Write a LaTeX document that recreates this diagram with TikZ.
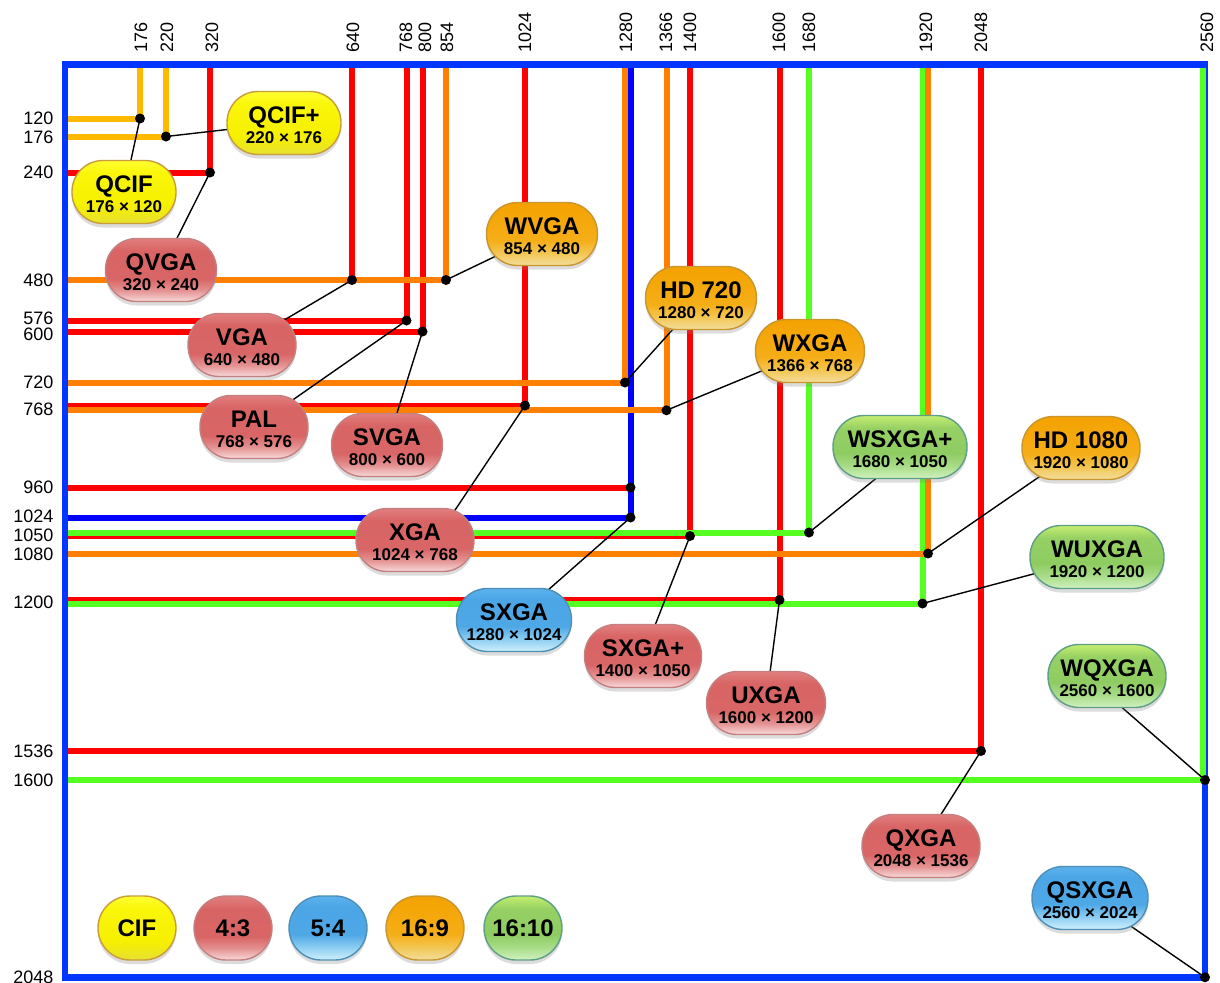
\documentclass[tikz,border=0pt]{standalone}
\usepackage{fontspec}
\setmainfont{Liberation Sans}
\usetikzlibrary{shadows,calc}
\pgfdeclarelayer{lines}
\pgfdeclarelayer{conn}
\pgfsetlayers{lines,conn,main}
\definecolor{cifl}{HTML}{FFBA00}
\definecolor{redl}{HTML}{FF0000}
\definecolor{orgl}{HTML}{FF8000}
\definecolor{grnl}{HTML}{55FF22}
\definecolor{bluel}{HTML}{0000FF}
\definecolor{framec}{HTML}{0036FF}
\pgfdeclareverticalshading{shcif}{100bp}{color(0bp)=(rgb,255:red,230;green,224;blue,50); color(25bp)=(rgb,255:red,230;green,224;blue,50); color(40bp)=(rgb,255:red,246;green,240;blue,0); color(65bp)=(rgb,255:red,250;green,246;blue,10); color(75bp)=(rgb,255:red,255;green,255;blue,48); color(100bp)=(rgb,255:red,255;green,255;blue,48)}
\pgfdeclareverticalshading{shred}{100bp}{color(0bp)=(rgb,255:red,248;green,218;blue,218); color(25bp)=(rgb,255:red,248;green,218;blue,218); color(34bp)=(rgb,255:red,228;green,145;blue,145); color(43bp)=(rgb,255:red,217;green,102;blue,102); color(65bp)=(rgb,255:red,216;green,100;blue,100); color(75bp)=(rgb,255:red,226;green,126;blue,126); color(100bp)=(rgb,255:red,226;green,126;blue,126)}
\pgfdeclareverticalshading{shblue}{100bp}{color(0bp)=(rgb,255:red,208;green,240;blue,252); color(25bp)=(rgb,255:red,208;green,240;blue,252); color(35bp)=(rgb,255:red,140;green,205;blue,242); color(45bp)=(rgb,255:red,78;green,168;blue,230); color(67bp)=(rgb,255:red,76;green,166;blue,230); color(75bp)=(rgb,255:red,92;green,178;blue,238); color(100bp)=(rgb,255:red,92;green,178;blue,238)}
\pgfdeclareverticalshading{shorg}{100bp}{color(0bp)=(rgb,255:red,243;green,222;blue,158); color(25bp)=(rgb,255:red,243;green,222;blue,158); color(35bp)=(rgb,255:red,243;green,198;blue,82); color(45bp)=(rgb,255:red,245;green,174;blue,24); color(75bp)=(rgb,255:red,244;green,162;blue,0); color(100bp)=(rgb,255:red,244;green,162;blue,0)}
\pgfdeclareverticalshading{shgrn}{100bp}{color(0bp)=(rgb,255:red,208;green,242;blue,192); color(25bp)=(rgb,255:red,208;green,242;blue,192); color(35bp)=(rgb,255:red,168;green,220;blue,136); color(45bp)=(rgb,255:red,142;green,204;blue,98); color(65bp)=(rgb,255:red,150;green,208;blue,100); color(75bp)=(rgb,255:red,196;green,238;blue,112); color(100bp)=(rgb,255:red,196;green,238;blue,112)}
\newcommand{\plab}[2]{\rule{0pt}{22pt}{\fontsize{24}{24}\selectfont #1}\\#2}
\def\xo{68.3}
\def\yo{67.7}
\begin{document}
\begin{tikzpicture}[x=1pt,y=-1pt,
  ln/.style={line width=6pt},
  axl/.style={font=\fontsize{18}{18}\selectfont, inner sep=0pt},
  pill/.style={rectangle, rounded corners=31pt, minimum height=63pt, inner sep=0pt,
    line width=1.4pt, align=center, text=black,
    font=\fontsize{17}{20}\selectfont\bfseries,
    drop shadow={opacity=0.28, shadow xshift=0pt, shadow yshift=-4pt}},
  leg/.style={pill, minimum width=78pt, minimum height=64pt, rounded corners=32pt,
    font=\fontsize{24}{24}\selectfont\bfseries},
  pcif/.style={draw={rgb,255:red,200;green,155;blue,60}, shading=shcif},
  p43/.style={draw={rgb,255:red,196;green,128;blue,128}, shading=shred},
  p54/.style={draw={rgb,255:red,78;green,143;blue,181}, shading=shblue},
  p169/.style={draw={rgb,255:red,200;green,149;blue,46}, shading=shorg},
  p1610/.style={draw={rgb,255:red,94;green,158;blue,134}, shading=shgrn},
  conn/.style={draw=black, line width=1.4pt},
  dotc/.style={fill=black}
]
\useasboundingbox (0,0) rectangle (1220,982);

% ---------------- grid lines ----------------
\begin{pgfonlayer}{lines}
\draw[framec, line width=6.6pt] (65,64.4) rectangle (1205,977.3);
\draw[ln, cifl] (\xo,118.5) -| (140,\yo);
\draw[ln, cifl] (\xo,136.5) -| (166,\yo);
\draw[ln, redl] (\xo,172.5) -| (210,\yo);
\draw[ln, redl] (\xo,280) -| (352,\yo);
\draw[ln, redl] (\xo,320.5) -| (406.5,\yo);
\draw[ln, redl] (\xo,331.5) -| (422.5,\yo);
\draw[ln, orgl] (\xo,280) -| (446,\yo);
\draw[ln, redl] (\xo,405.5) -| (525,\yo);
\draw[ln, redl] (\xo,487.5) -| (630.5,\yo);
\draw[ln, bluel] (\xo,517.5) -| (630.5,\yo);
\draw[ln, orgl] (\xo,382.5) -| (625,\yo);
\draw[ln, orgl] (\xo,410.3) -| (666.5,\yo);
\draw[ln, redl] (\xo,536) -| (690,\yo);
\draw[ln, redl] (\xo,600) -| (779.5,\yo);
\draw[ln, grnl] (\xo,532.5) -| (809,\yo);
\draw[ln, grnl] (\xo,603.5) -| (922.5,\yo);
\draw[ln, orgl] (\xo,553.5) -| (928,\yo);
\draw[ln, redl] (\xo,751) -| (981,\yo);
\draw[ln, grnl] (\xo,780) -| (1203.4,\yo);
\end{pgfonlayer}

% ---------------- axis labels ----------------
\foreach \xx/\tt in {141/176, 167/220, 212/320, 353/640, 406/768, 425/800, 447/854, 525/1024,
  626/1280, 666/1366, 690/1400, 779/1600, 809/1680, 926/1920, 981/2048, 1207/2560}
  \node[axl, rotate=90, anchor=west] (top\tt) at (\xx,53) {\tt};
\foreach \yy/\tt in {118.5/120, 137/176, 172.5/240, 280/480, 318/576, 334/600, 382.5/720,
  409/768, 487.5/960, 516.5/1024, 535/1050, 554/1080, 602/1200, 751/1536, 780/1600, 977/2048}
  \node[axl, anchor=east] (left\tt) at (53.5,\yy) {\tt};

% ---------------- corner points ----------------
\coordinate (dqcif) at (140,118.5);
\coordinate (dqcifp) at (166,136.5);
\coordinate (dqvga) at (210,172.5);
\coordinate (dvga) at (352,280);
\coordinate (dwvga) at (446,280);
\coordinate (dpal) at (406.5,320.5);
\coordinate (dsvga) at (422.5,331.5);
\coordinate (dhd) at (625,382.5);
\coordinate (dwxga) at (666.5,410.3);
\coordinate (dxga) at (525,405.5);
\coordinate (dsxga) at (630.5,517.5);
\coordinate (d960) at (630.5,487.5);
\coordinate (dsxgap) at (690,536);
\coordinate (duxga) at (779.5,600);
\coordinate (dwsxgap) at (809,532.5);
\coordinate (dhdf) at (928,553.5);
\coordinate (dwuxga) at (922.5,603.5);
\coordinate (dwqxga) at (1205,780);
\coordinate (dqxga) at (981,751);
\coordinate (dqsxga) at (1205,977.3);

% ---------------- labels ----------------
\node[pill, pcif, minimum width=104pt] (qcif) at (124,192) {\plab{QCIF}{176 × 120}};
\node[pill, pcif, minimum width=114pt] (qcifp) at (284,123) {\plab{QCIF+}{220 × 176}};
\node[pill, p43, minimum width=111pt] (qvga) at (161,270) {\plab{QVGA}{320 × 240}};
\node[pill, p169, minimum width=111pt] (wvga) at (542,234) {\plab{WVGA}{854 × 480}};
\node[pill, p43, minimum width=108pt] (vga) at (242,345) {\plab{VGA}{640 × 480}};
\node[pill, p43, minimum width=108pt] (pal) at (254,427) {\plab{PAL}{768 × 576}};
\node[pill, p43, minimum width=111pt] (svga) at (387,445) {\plab{SVGA}{800 × 600}};
\node[pill, p169, minimum width=111pt] (hd) at (701,298) {\plab{HD 720}{1280 × 720}};
\node[pill, p169, minimum width=109pt] (wxga) at (810,351) {\plab{WXGA}{1366 × 768}};
\node[pill, p43, minimum width=118pt] (xga) at (415,540) {\plab{XGA}{1024 × 768}};
\node[pill, p1610, minimum width=134pt] (wsxgap) at (900,447) {\plab{WSXGA+}{1680 × 1050}};
\node[pill, p169, minimum width=118pt] (hdf) at (1081,448) {\plab{HD 1080}{1920 × 1080}};
\node[pill, p1610, minimum width=134pt] (wuxga) at (1097,557) {\plab{WUXGA}{1920 × 1200}};
\node[pill, p54, minimum width=115pt] (sxga) at (514,620) {\plab{SXGA}{1280 × 1024}};
\node[pill, p43, minimum width=117pt] (sxgap) at (643,656) {\plab{SXGA+}{1400 × 1050}};
\node[pill, p43, minimum width=119pt] (uxga) at (766,703) {\plab{UXGA}{1600 × 1200}};
\node[pill, p1610, minimum width=118pt] (wqxga) at (1107,676) {\plab{WQXGA}{2560 × 1600}};
\node[pill, p43, minimum width=118pt] (qxga) at (921,846) {\plab{QXGA}{2048 × 1536}};
\node[pill, p54, minimum width=116pt] (qsxga) at (1090,898) {\plab{QSXGA}{2560 × 2024}};

% legend
\node[leg, pcif] (lcif) at (137,928) {CIF};
\node[leg, p43] (l43) at (233,928) {4:3};
\node[leg, p54] (l54) at (328,928) {5:4};
\node[leg, p169] (l169) at (425,928) {16:9};
\node[leg, p1610] (l1610) at (523,928) {16:10};

% ---------------- connectors and dots ----------------
\begin{pgfonlayer}{conn}
\draw[conn] (qcif.center) -- (dqcif);
\draw[conn] (qcifp.center) -- (dqcifp);
\draw[conn] (qvga.center) -- (dqvga);
\draw[conn] (vga.center) -- (dvga);
\draw[conn] (wvga.center) -- (dwvga);
\draw[conn] (pal.center) -- (dpal);
\draw[conn] (svga.center) -- (dsvga);
\draw[conn] (hd.center) -- (dhd);
\draw[conn] (wxga.center) -- (dwxga);
\draw[conn] ($(xga.center)+(20,0)$) -- (dxga);
\draw[conn] (sxga.center) -- (dsxga);
\draw[conn] (sxgap.center) -- (dsxgap);
\draw[conn] (uxga.center) -- (duxga);
\draw[conn] ($(wsxgap.center)+(15,0)$) -- (dwsxgap);
\draw[conn] (hdf.center) -- (dhdf);
\draw[conn] (wuxga.center) -- (dwuxga);
\draw[conn] ($(wqxga.center)+(-21,0)$) -- (dwqxga);
\draw[conn] (qxga.center) -- (dqxga);
\draw[conn] (qsxga.center) -- (dqsxga);
\foreach \d in {dqcif,dqcifp,dqvga,dvga,dwvga,dpal,dsvga,dhd,dwxga,dxga,dsxga,d960,dsxgap,duxga,dwsxgap,dhdf,dwuxga,dwqxga,dqxga,dqsxga}
  \fill[dotc] (\d) circle[radius=5pt];
\end{pgfonlayer}
\end{tikzpicture}
\end{document}
